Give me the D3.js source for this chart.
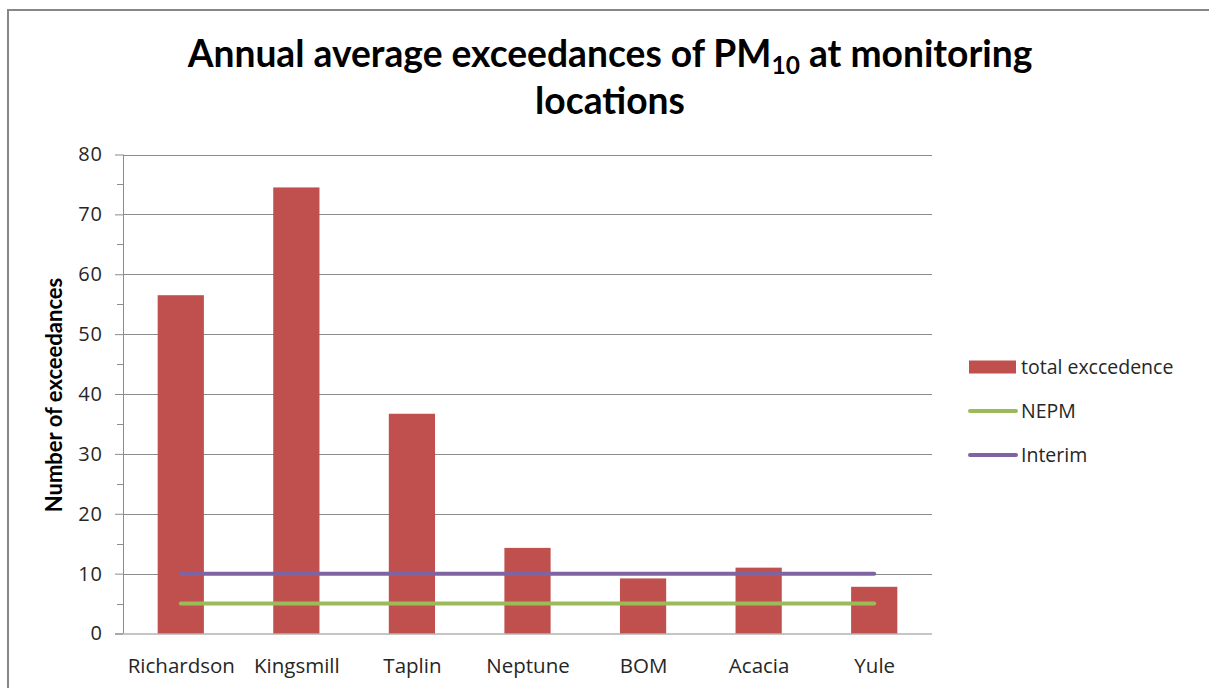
<!DOCTYPE html>
<html>
<head>
<meta charset="utf-8">
<script src="https://cdn.jsdelivr.net/npm/d3@7"></script>
<style>
  html, body { margin: 0; padding: 0; background: #fff; }
  svg { display: block; }
</style>
</head>
<body>
<svg id="chart" width="1209" height="688"></svg>
<script>
const categories = ["Richardson", "Kingsmill", "Taplin", "Neptune", "BOM", "Acacia", "Yule"];
const totalExceedence = [56.5, 74.5, 36.7, 14.3, 9.2, 11.0, 7.8];
const nepm = [5, 5, 5, 5, 5, 5, 5];
const interim = [10, 10, 10, 10, 10, 10, 10];
const yTicks = [0, 10, 20, 30, 40, 50, 60, 70, 80];
const seriesNames = ["total exccedence", "NEPM", "Interim"];
const colors = { bar: "#C0504D", nepm: "#9BBB59", interim: "#8064A2" };

const bodyFont = "'Open Sans', sans-serif";
const titleFont = "Lato, sans-serif";

const svg = d3.select("#chart");

// outer chart frame
svg.append("rect").attr("x", 8).attr("y", 10).attr("width", 1230).attr("height", 700)
  .attr("fill", "none").attr("stroke", "#878787").attr("stroke-width", 2);

const plot = { left: 123, right: 932, top: 154.5, bottom: 633.5 };

const x = d3.scaleBand().domain(categories).range([plot.left, plot.right]).paddingInner(0.6).paddingOuter(0.3);
const xc = d3.scalePoint().domain(categories).range([plot.left, plot.right]).padding(0.5);
const y = d3.scaleLinear().domain([0, 80]).range([plot.bottom, plot.top]);

// gridlines
svg.append("g").selectAll("line").data(yTicks.filter(d => d > 0)).join("line")
  .attr("x1", plot.left).attr("x2", plot.right)
  .attr("y1", d => Math.round(y(d)) + 0.5).attr("y2", d => Math.round(y(d)) + 0.5)
  .attr("stroke", "#8c8c8c").attr("stroke-width", 1);

// bars
svg.append("g").selectAll("rect").data(categories).join("rect")
  .attr("x", d => x(d)).attr("width", x.bandwidth())
  .attr("y", (d, i) => y(totalExceedence[i]))
  .attr("height", (d, i) => y(0) - y(totalExceedence[i]))
  .attr("fill", colors.bar);

// y axis
const yAxis = d3.axisLeft(y).tickValues(yTicks).tickSize(8).tickPadding(12).tickFormat(d3.format("d"));
const gy = svg.append("g").attr("transform", `translate(${plot.left},0)`).call(yAxis);
gy.select(".domain").attr("stroke", "#8c8c8c").attr("d", `M0.5,${plot.top}V${plot.bottom}`);
gy.selectAll(".tick line").attr("stroke", "#8c8c8c");
gy.selectAll(".tick text").style("font-size", "20px").style("font-family", bodyFont)
  .attr("fill", "#262626").attr("letter-spacing", 1);
// minor ticks
const minor = d3.range(5, 80, 10);
gy.append("g").selectAll("line").data(minor).join("line")
  .attr("x1", -6).attr("x2", 0)
  .attr("y1", d => Math.round(y(d)) + 0.5).attr("y2", d => Math.round(y(d)) + 0.5)
  .attr("stroke", "#8c8c8c");

// x axis
const xAxis = d3.axisBottom(xc).tickSize(0).tickPadding(25);
const gx = svg.append("g").attr("transform", `translate(0,${plot.bottom})`).call(xAxis);
gx.select(".domain").attr("stroke", "#8c8c8c").attr("d", `M${plot.left - 8},0.5H${plot.right}`);
gx.selectAll(".tick text").style("font-size", "20.5px").style("font-family", bodyFont).attr("fill", "#262626");

// lines
const line = d3.line().x((d, i) => xc(categories[i])).y(d => y(d));
svg.append("path").datum(nepm).attr("d", line).attr("fill", "none")
  .attr("stroke", colors.nepm).attr("stroke-width", 4).attr("stroke-linecap", "round");
svg.append("path").datum(interim).attr("d", line).attr("fill", "none")
  .attr("stroke", colors.interim).attr("stroke-width", 4).attr("stroke-linecap", "round");

// title
const title = svg.append("text").attr("text-anchor", "middle")
  .style("font-family", titleFont).style("font-weight", "bold").style("font-size", "37.2px")
  .attr("fill", "#000");
const t1 = title.append("tspan").attr("x", 610).attr("y", 67);
t1.append("tspan").text("Annual average exceedances of PM");
t1.append("tspan").style("font-size", "24.5px").attr("dy", 7).text("10");
t1.append("tspan").attr("dy", -7).text(" at monitoring");
title.append("tspan").attr("x", 610).attr("y", 114).text("locations");

// y axis title
svg.append("text").attr("transform", "translate(62,395) rotate(-90)")
  .attr("text-anchor", "middle")
  .style("font-family", titleFont).style("font-weight", "bold").style("font-size", "22px")
  .attr("fill", "#000").text("Number of exceedances");

// legend
const legend = svg.append("g").attr("transform", "translate(969,0)");
const ly = [367, 411, 455];
legend.append("rect").attr("x", 0).attr("y", ly[0] - 6.5).attr("width", 47).attr("height", 13).attr("fill", colors.bar);
legend.append("line").attr("x1", 1).attr("x2", 47).attr("y1", ly[1]).attr("y2", ly[1])
  .attr("stroke", colors.nepm).attr("stroke-width", 4).attr("stroke-linecap", "round");
legend.append("line").attr("x1", 1).attr("x2", 47).attr("y1", ly[2]).attr("y2", ly[2])
  .attr("stroke", colors.interim).attr("stroke-width", 4).attr("stroke-linecap", "round");
legend.selectAll("text.lg").data(seriesNames).join("text").attr("class", "lg")
  .attr("x", 52).attr("y", (d, i) => ly[i]).attr("dy", "0.35em")
  .style("font-size", "19.5px").style("font-family", bodyFont)
  .attr("fill", "#262626").text(d => d);
</script>
</body>
</html>
